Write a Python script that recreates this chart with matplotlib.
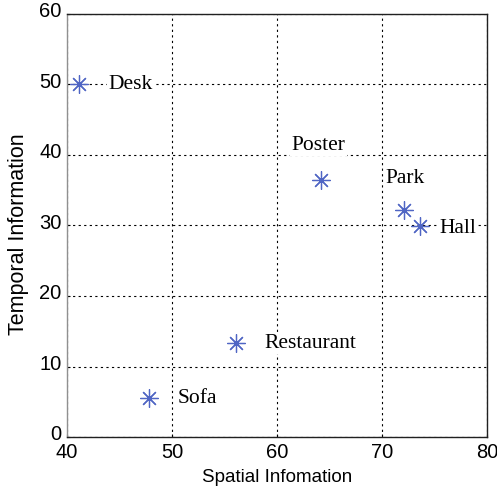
import matplotlib.pyplot as plt
import matplotlib.transforms as mtransforms

names = ['Desk', 'Poster', 'Park', 'Hall', 'Restaurant', 'Sofa']
spatial = [41.1, 64.2, 72.1, 73.6, 56.1, 47.8]
temporal = [50.0, 36.5, 32.2, 29.9, 13.3, 5.5]
label_x = [43.9, 61.4, 70.3, 75.5, 58.8, 50.5]
label_y = [50.0, 41.4, 36.7, 29.6, 13.3, 5.4]

plt.rcParams['font.family'] = 'Liberation Sans'

fig = plt.figure(figsize=(4.97, 4.95), dpi=100)
ax = fig.add_axes([0.135, 0.117, 0.845, 0.855])

ax.grid(True, color='black', linestyle=(0, (2, 3)), linewidth=0.8)
ax.set_axisbelow(True)

for i in range(len(names)):
    ax.text(label_x[i], label_y[i], names[i], family='Liberation Serif', fontsize=15.5,
            va='center', ha='left', zorder=2,
            bbox=dict(facecolor='white', edgecolor='none', pad=1))

ax.plot(spatial, temporal, linestyle='none', marker=(8, 2, 0), markersize=13,
        markeredgewidth=0.9, color='#5066c4', zorder=3)

ax.set_xlim(40, 80)
ax.set_ylim(0, 60)
ax.set_xticks([40, 50, 60, 70, 80])
ax.set_yticks([0, 10, 20, 30, 40, 50, 60])
ax.tick_params(direction='in', length=2, width=0.8, labelsize=14.5)
ax.tick_params(axis='x', pad=4)
ax.tick_params(axis='y', pad=4)

# nudge y tick labels up a little, as in the original
shift = mtransforms.ScaledTranslation(0, 3 / 72, fig.dpi_scale_trans)
for lab in ax.get_yticklabels():
    lab.set_transform(lab.get_transform() + shift)

for s in ax.spines.values():
    s.set_color('#202020')
    s.set_linewidth(1)
ax.spines['left'].set_color('#909090')

ax.set_xlabel('Spatial Infomation', fontsize=13.5, labelpad=5)
ax.set_ylabel('Temporal Information', fontsize=15.5)
ax.yaxis.set_label_coords(-0.09, 0.48)

fig.savefig('out.png', dpi=100)
